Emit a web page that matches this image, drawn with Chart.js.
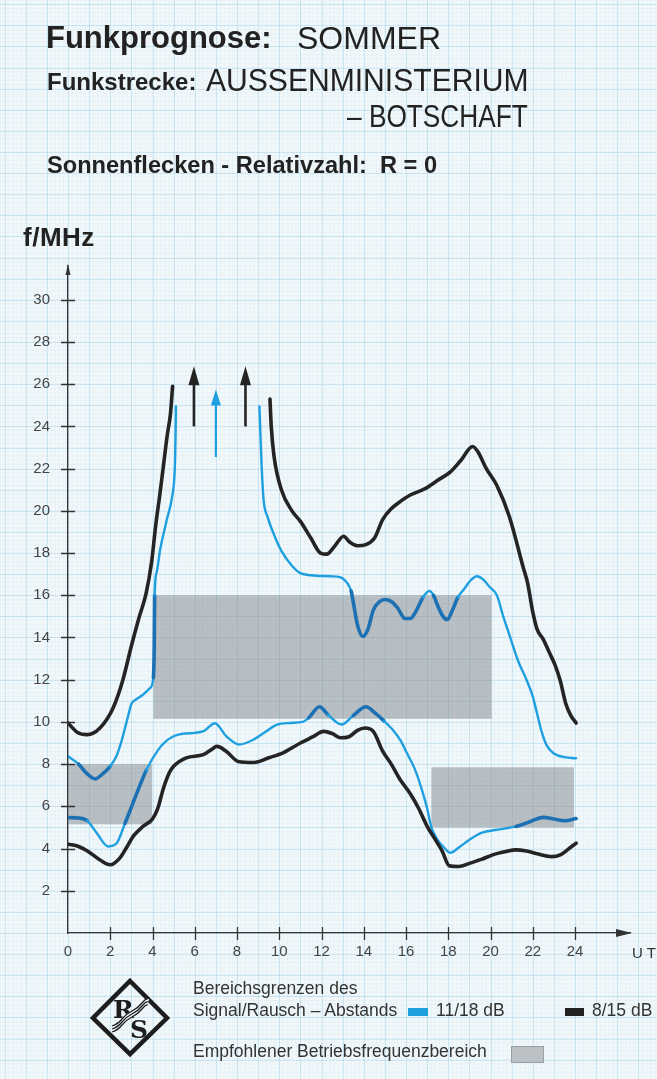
<!DOCTYPE html>
<html><head><meta charset="utf-8">
<script src="https://cdn.jsdelivr.net/npm/chart.js@4/dist/chart.umd.min.js"></script>
<style>
html,body{margin:0;padding:0;}
body{width:657px;height:1079px;position:relative;overflow:hidden;background:#f2f8fa;font-family:"Liberation Sans",Arial,sans-serif;color:#222;}
#c{position:absolute;left:0;top:0;width:657px;height:1079px;}
.t{position:absolute;white-space:nowrap;line-height:1;transform-origin:left top;}
.sw{position:absolute;}
</style></head><body>
<canvas id="c" width="657" height="1079"></canvas>

<div class="t" style="left:46px;top:22px;font-size:31px;font-weight:bold;">Funkprognose:</div>
<div class="t" style="left:297px;top:22px;font-size:32px;">SOMMER</div>
<div class="t" style="left:47px;top:70px;font-size:24px;font-weight:bold;">Funkstrecke:</div>
<div class="t" style="left:206px;top:64px;font-size:32px;transform:scaleX(0.94);">AUSSENMINISTERIUM</div>
<div class="t" style="left:347px;top:100px;font-size:32px;transform:scaleX(0.82);">– BOTSCHAFT</div>
<div class="t" style="left:47px;top:154px;font-size:23.6px;font-weight:bold;">Sonnenflecken - Relativzahl:&nbsp; R = 0</div>
<div class="t" style="left:23px;top:224px;font-size:26px;font-weight:bold;letter-spacing:0.5px;">f/MHz</div>
<div class="t" style="left:632px;top:945px;font-size:15px;letter-spacing:4px;color:#333;">UT</div>

<svg style="position:absolute;left:88px;top:977px;" width="84" height="82" viewBox="0 0 84 82">
  <polygon points="42,4 79,41 42,77 5,41" fill="none" stroke="#1d1d1d" stroke-width="4.5" stroke-linejoin="miter"/>
  <text x="25" y="41" font-family="DejaVu Serif,serif" font-size="25" font-weight="bold" fill="#1d1d1d">R</text>
  <text x="42" y="61" font-family="DejaVu Serif,serif" font-size="25" font-weight="bold" fill="#1d1d1d">S</text>
  <path d="M24,52 q6,-2 10,-7 t10,-8 t10,-8 t6,-4" fill="none" stroke="#f2f8fa" stroke-width="6"/>
  <path d="M24,49 q6,-2 10,-7 t10,-8 t10,-8 t6,-4" fill="none" stroke="#1d1d1d" stroke-width="1.3"/>
  <path d="M24,52 q6,-2 10,-7 t10,-8 t10,-8 t6,-4" fill="none" stroke="#1d1d1d" stroke-width="1.3"/>
  <path d="M24,55 q6,-2 10,-7 t10,-8 t10,-8 t6,-4" fill="none" stroke="#1d1d1d" stroke-width="1.3"/>
</svg>

<div class="t" style="left:193px;top:980px;font-size:17.5px;color:#333;">Bereichsgrenzen des</div>
<div class="t" style="left:193px;top:1002px;font-size:17.5px;color:#333;">Signal/Rausch – Abstands</div>
<div class="sw" style="left:408px;top:1008px;width:20px;height:8px;background:#1e9fe0;"></div>
<div class="t" style="left:436px;top:1002px;font-size:17.5px;color:#333;">11/18 dB</div>
<div class="sw" style="left:565px;top:1008px;width:19px;height:8px;background:#222;"></div>
<div class="t" style="left:592px;top:1002px;font-size:17.5px;color:#333;">8/15 dB</div>
<div class="t" style="left:193px;top:1043px;font-size:17.5px;color:#333;">Empfohlener Betriebsfrequenzbereich</div>
<div class="sw" style="left:511px;top:1046px;width:31px;height:15px;background:#bcc1c6;border:1px solid #9aa0a6;"></div>

<script>
// ---- data ----
const xTicks = [0,2,4,6,8,10,12,14,16,18,20,22,24];
const yTicks = [0,2,4,6,8,10,12,14,16,18,20,22,24,26,28,30];
const X_RANGE = [0, 26.6];
const Y_RANGE = [0, 31.6];

// 8/15 dB upper limit (black), split around the open top
const blackUpperMorning = [[0,9.95],[0.45,9.5],[0.9,9.4],[1.5,9.7],[2.15,10.7],[2.6,12.0],[3.0,13.6],[3.35,14.9],[3.7,16.1],[3.96,17.6],[4.15,19.3],[4.35,20.8],[4.5,22.0],[4.7,23.6],[4.85,24.6],[4.95,25.9]];
const blackUpperAfternoon = [[9.56,25.3],[9.62,24.0],[9.75,22.6],[10.1,21.0],[10.6,20.0],[11.0,19.5],[11.5,18.7],[11.95,18.0],[12.25,17.95],[12.6,18.3],[13.05,18.8],[13.3,18.55],[13.7,18.35],[14.1,18.4],[14.5,18.7],[14.9,19.6],[15.3,20.1],[15.6,20.35],[16.2,20.75],[16.9,21.05],[17.5,21.45],[18.1,21.85],[18.6,22.4],[19.15,23.05],[19.4,22.8],[19.8,22.0],[20.3,21.2],[20.9,19.7],[21.55,17.3],[21.75,16.6],[22.0,15.2],[22.2,14.4],[22.5,13.9],[22.8,13.25],[23.05,12.7],[23.3,11.95],[23.55,10.9],[23.8,10.3],[24.05,9.95]];
// 11/18 dB upper limit (blue)
const blueUpperMorning = [[0,8.37],[0.5,8.0],[0.9,7.55],[1.28,7.3],[1.65,7.55],[2.0,7.9],[2.3,8.4],[2.55,9.15],[2.8,10.1],[3.0,10.85],[3.2,11.05],[3.5,11.25],[3.88,11.6],[4.04,12.1],[4.08,13.5],[4.1,16.0],[4.2,17.1],[4.36,18.15],[4.67,19.55],[4.95,20.8],[5.05,21.9],[5.09,23.5],[5.11,24.95]];
const blueUpperAfternoon = [[9.06,24.95],[9.15,22.5],[9.25,20.6],[9.45,19.7],[9.72,18.95],[10.1,18.1],[10.6,17.4],[11.0,17.05],[11.5,16.95],[12.4,16.9],[12.9,16.85],[13.2,16.6],[13.4,16.2],[13.55,15.4],[13.7,14.6],[13.95,14.05],[14.2,14.4],[14.45,15.3],[14.75,15.7],[15.0,15.8],[15.3,15.7],[15.6,15.4],[15.95,14.9],[16.2,14.9],[16.5,15.3],[16.8,15.9],[17.1,16.2],[17.3,16.0],[17.5,15.5],[17.75,15.0],[17.95,14.85],[18.2,15.3],[18.45,15.9],[18.75,16.3],[19.05,16.7],[19.35,16.9],[19.65,16.75],[19.95,16.4],[20.3,16.0],[20.6,15.0],[20.9,14.1],[21.3,12.9],[21.7,12.0],[22.0,11.2],[22.2,10.4],[22.4,9.6],[22.65,8.9],[23.0,8.5],[23.5,8.33],[24.05,8.28]];
// lower limits
const blueLower = [[0,5.47],[0.5,5.45],[0.9,5.33],[1.35,4.75],[1.9,4.1],[2.3,4.25],[2.7,5.2],[3.25,6.6],[3.7,7.7],[4.25,8.65],[4.6,9.05],[5.0,9.32],[5.5,9.45],[6.0,9.48],[6.45,9.58],[6.95,9.94],[7.5,9.32],[8.1,8.93],[8.7,9.12],[9.3,9.5],[9.9,9.87],[10.5,9.95],[11.1,10.0],[11.4,10.2],[11.9,10.72],[12.3,10.35],[12.95,9.88],[13.5,10.3],[14.1,10.72],[14.5,10.45],[14.95,10.05],[15.35,9.65],[15.75,9.1],[16.05,8.5],[16.4,7.8],[16.7,6.95],[17.0,5.9],[17.2,5.0],[17.5,4.4],[17.8,4.05],[18.1,3.8],[18.5,4.05],[19.0,4.42],[19.6,4.75],[20.3,4.89],[21.2,5.05],[21.8,5.25],[22.5,5.48],[23.0,5.4],[23.5,5.32],[24.05,5.42]];
const blackLower = [[0,4.21],[0.5,4.1],[0.9,3.9],[1.5,3.47],[2.0,3.23],[2.45,3.55],[2.8,4.1],[3.1,4.6],[3.55,5.05],[4.0,5.4],[4.25,5.9],[4.5,6.8],[4.8,7.6],[5.0,7.9],[5.6,8.3],[6.4,8.45],[6.8,8.7],[7.05,8.84],[7.5,8.6],[8.05,8.13],[8.8,8.08],[9.5,8.3],[10.2,8.55],[11.0,9.0],[11.6,9.3],[12.1,9.55],[12.5,9.45],[12.9,9.25],[13.3,9.3],[13.7,9.6],[14.05,9.71],[14.45,9.55],[14.9,8.6],[15.3,8.0],[15.7,7.3],[16.2,6.6],[16.6,5.9],[17.0,5.05],[17.4,4.4],[17.7,3.9],[18.05,3.18],[18.5,3.15],[19.0,3.3],[19.6,3.5],[20.1,3.7],[20.7,3.85],[21.2,3.94],[21.7,3.88],[22.2,3.75],[22.9,3.62],[23.3,3.7],[23.65,3.95],[24.05,4.26]];

// recommended operating frequency bands: [x0, x1, y0, y1]
const recommendedBands = [[0,3.98,5.15,8.0],[4.04,20.05,10.15,16.0],[17.2,23.95,5.0,7.85]];
// open-ended (upward) arrows: [x, yFrom, yTo, series]
const openArrows = [[5.96,24.0,26.85,'black'],[7.0,22.55,25.75,'blue'],[8.4,24.0,26.85,'black']];

// ---- styles ----
const BLACK = '#242424', BLUE = '#1ea0e0', BLUE_ON_GRAY = '#1c70b4';
const FONT = '"Liberation Sans", Arial, sans-serif';

function inBand(x, y) {
  return recommendedBands.some(b => x >= b[0] && x <= b[1] && y >= b[2] && y <= b[3]);
}
const blueSeg = {
  borderColor: c => inBand((c.p0.parsed.x + c.p1.parsed.x)/2, (c.p0.parsed.y + c.p1.parsed.y)/2) ? BLUE_ON_GRAY : BLUE,
  borderWidth: c => inBand((c.p0.parsed.x + c.p1.parsed.x)/2, (c.p0.parsed.y + c.p1.parsed.y)/2) ? 3.6 : 2.4
};

function ds(label, data, color, width, seg) {
  const d = {label, data, borderColor: color, borderWidth: width, pointRadius: 0,
    cubicInterpolationMode: 'monotone', fill: false, borderCapStyle: 'round', borderJoinStyle: 'round'};
  if (seg) d.segment = seg;
  return d;
}

const paperPlugin = {
  id: 'paper',
  beforeDraw(chart) {
    const {ctx, width, height, scales: {x, y}} = chart;
    ctx.save();
    ctx.fillStyle = '#f2f8fa';
    ctx.fillRect(0, 0, width, height);
    const ux = x.getPixelForValue(1) - x.getPixelForValue(0);
    const uy = y.getPixelForValue(0) - y.getPixelForValue(1);
    const x0 = x.getPixelForValue(0), y0 = y.getPixelForValue(0);
    // fine mm grid
    ctx.strokeStyle = 'rgba(150,205,232,0.18)';
    ctx.lineWidth = 0.6;
    ctx.beginPath();
    for (let k = -20*5; k <= 40*5; k++) {
      const px = x0 + k*ux/5; if (px < 0 || px > width) continue;
      ctx.moveTo(px, 0); ctx.lineTo(px, height);
    }
    for (let k = -20*5; k <= 60*5; k++) {
      const py = y0 - k*uy/5; if (py < 0 || py > height) continue;
      ctx.moveTo(0, py); ctx.lineTo(width, py);
    }
    ctx.stroke();
    // stronger lines
    ctx.strokeStyle = 'rgba(125,192,228,0.30)';
    ctx.lineWidth = 1;
    ctx.beginPath();
    for (let k = -20; k <= 40; k++) {
      const px = Math.round(x0 + k*ux) + 0.5; if (px < 0 || px > width) continue;
      ctx.moveTo(px, 0); ctx.lineTo(px, height);
    }
    for (let k = -20; k <= 60; k++) {
      const py = Math.round(y0 - k*uy) + 0.5; if (py < 0 || py > height) continue;
      ctx.moveTo(0, py); ctx.lineTo(width, py);
    }
    ctx.stroke();
    ctx.restore();
  },
  beforeDatasetsDraw(chart) {
    const {ctx, scales: {x, y}} = chart;
    ctx.save();
    ctx.fillStyle = 'rgba(118,124,130,0.46)';
    recommendedBands.forEach(b => {
      const l = x.getPixelForValue(b[0]), r = x.getPixelForValue(b[1]);
      const t = y.getPixelForValue(b[3]), btm = y.getPixelForValue(b[2]);
      ctx.fillRect(l, t, r - l, btm - t);
    });
    ctx.restore();
  },
  afterDraw(chart) {
    const {ctx, chartArea: ca, scales: {x, y}} = chart;
    ctx.save();
    ctx.strokeStyle = '#333'; ctx.fillStyle = '#333'; ctx.lineWidth = 1.3;
    // tick crosses
    ctx.beginPath();
    const ax = x.getPixelForValue(0), ay = y.getPixelForValue(0);
    yTicks.forEach(v => { if (v === 0) return; const p = Math.round(y.getPixelForValue(v)) + 0.5; ctx.moveTo(ax - 7, p); ctx.lineTo(ax + 7, p); });
    xTicks.forEach(v => { if (v === 0) return; const p = Math.round(x.getPixelForValue(v)) + 0.5; ctx.moveTo(p, ay - 6); ctx.lineTo(p, ay + 7); });
    ctx.stroke();
    // axis arrows
    ctx.beginPath();
    ctx.moveTo(ax, ca.top - 2); ctx.lineTo(ax - 2.5, ca.top + 9); ctx.lineTo(ax + 2.5, ca.top + 9); ctx.closePath();
    ctx.fill();
    ctx.beginPath();
    ctx.moveTo(ca.right + 2, ay); ctx.lineTo(ca.right - 14, ay - 4); ctx.lineTo(ca.right - 14, ay + 4); ctx.closePath();
    ctx.fill();
    // open-ended arrows
    openArrows.forEach(a => {
      const col = a[3] === 'blue' ? BLUE : BLACK;
      const px = x.getPixelForValue(a[0]);
      const pb = y.getPixelForValue(a[1]), pt = y.getPixelForValue(a[2]);
      ctx.strokeStyle = col; ctx.fillStyle = col;
      ctx.lineWidth = a[3] === 'blue' ? 2.2 : 2.6;
      ctx.beginPath(); ctx.moveTo(px, pb); ctx.lineTo(px, pt + 14); ctx.stroke();
      const hl = a[3] === 'blue' ? 16 : 19, hw = a[3] === 'blue' ? 5 : 5.5;
      ctx.beginPath(); ctx.moveTo(px, pt); ctx.lineTo(px - hw, pt + hl); ctx.lineTo(px + hw, pt + hl); ctx.closePath(); ctx.fill();
    });
    ctx.restore();
  }
};

new Chart(document.getElementById('c'), {
  type: 'line',
  data: {
    datasets: [
      ds('8/15 dB upper (a)', blackUpperMorning, BLACK, 3.6),
      ds('8/15 dB upper (b)', blackUpperAfternoon, BLACK, 3.6),
      ds('8/15 dB lower', blackLower, BLACK, 3.6),
      ds('11/18 dB upper (a)', blueUpperMorning, BLUE, 2.4, blueSeg),
      ds('11/18 dB upper (b)', blueUpperAfternoon, BLUE, 2.4, blueSeg),
      ds('11/18 dB lower', blueLower, BLUE, 2.4, blueSeg)
    ]
  },
  options: {
    responsive: false,
    animation: false,
    devicePixelRatio: 1,
    layout: {padding: {top: 266, right: 27, bottom: 0, left: 0}},
    plugins: {legend: {display: false}, tooltip: {enabled: false}, title: {display: false}},
    scales: {
      x: {
        type: 'linear', min: X_RANGE[0], max: X_RANGE[1],
        afterBuildTicks: s => { s.ticks = xTicks.map(v => ({value: v})); },
        afterFit: s => { s.height = 146; },
        grid: {display: false, drawTicks: false},
        border: {display: true, color: '#333', width: 1.3},
        ticks: {padding: 10, color: '#444', font: {family: FONT, size: 15}, maxRotation: 0, autoSkip: false,
                callback: v => String(v)}
      },
      y: {
        type: 'linear', min: Y_RANGE[0], max: Y_RANGE[1],
        afterBuildTicks: s => { s.ticks = yTicks.map(v => ({value: v})); },
        afterFit: s => { s.width = 68; },
        grid: {display: false, drawTicks: false},
        border: {display: true, color: '#333', width: 1.3},
        ticks: {padding: 18, color: '#444', font: {family: FONT, size: 15}, autoSkip: false,
                callback: v => v === 0 ? '' : String(v)}
      }
    }
  },
  plugins: [paperPlugin]
});
</script>
</body></html>
